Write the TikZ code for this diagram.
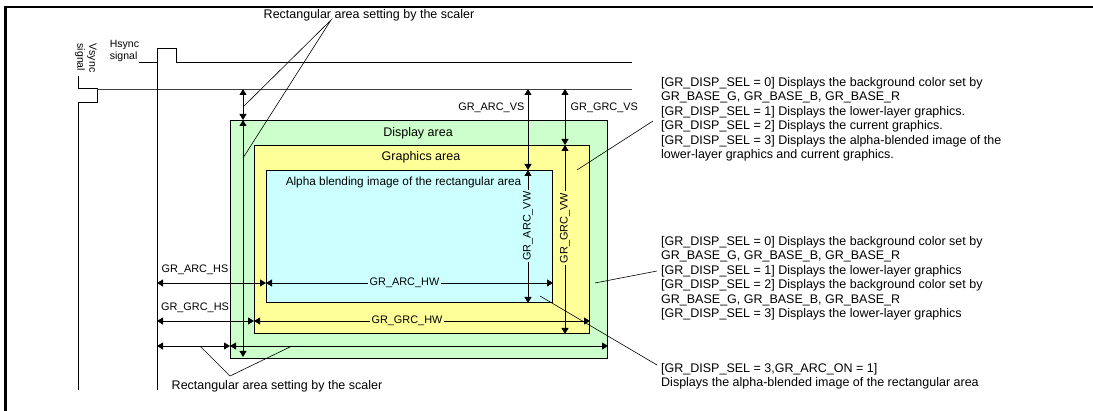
\documentclass[tikz,border=0pt]{standalone}
\usepackage{fontspec}
\setmainfont{Liberation Sans}
\usetikzlibrary{arrows.meta}
\definecolor{dispgreen}{HTML}{CCFFCC}
\definecolor{grayellow}{HTML}{FFFF99}
\definecolor{alphacyan}{HTML}{CCFFFF}
\tikzset{
  area/.style={draw=black, line width=1pt, anchor=north west, inner sep=0pt},
  sig/.style={line width=1pt, black},
  refline/.style={line width=0.8pt, black!75},
  dim/.style={line width=0.8pt, {Triangle[length=6pt,width=7pt]}-{Triangle[length=6pt,width=7pt]}},
  callout/.style={line width=0.6pt},
  note/.style={font=\fontsize{12.5}{14.5}\selectfont, align=left, inner sep=0pt, anchor=north west},
  big/.style={font=\fontsize{12.5}{14.5}\selectfont, inner sep=0pt},
  dimlabel/.style={font=\fontsize{10.9}{12.5}\selectfont, inner sep=1.5pt},
}
\begin{document}
\begin{tikzpicture}[x=1pt,y=-1pt]
\useasboundingbox (0,0) rectangle (1093,411);
% frame
\draw[line width=2.2pt] (5.5,411) -- (5.5,7) -- (1093,7);

% areas
\node[area, fill=dispgreen, minimum width=377pt, minimum height=238pt] (disp) at (230,120) {};
\node[area, fill=grayellow, minimum width=335pt, minimum height=188pt] (gfx) at (254,145) {};
\node[area, fill=alphacyan, minimum width=286pt, minimum height=132pt] (alpha) at (266,170) {};
\node[big] (displbl) at (418,133) {Display area};
\node[big] (gfxlbl) at (421,157) {Graphics area};
\node[font=\fontsize{11.8}{13}\selectfont, inner sep=0pt] (alphalbl) at (403.5,182.5) {Alpha blending image of the rectangular area};

% sync signals
\node[font=\fontsize{10.5}{12}\selectfont, align=left, rotate=-90, inner sep=0pt] (vsync) at (86,58) {Vsync\\signal};
\node[font=\fontsize{10.5}{12}\selectfont, align=left, inner sep=0pt] (hsync) at (124.5,51) {Hsync\\signal};
\coordinate (vs0) at (78,76);
\coordinate (vp) at (97,89);
\coordinate (vend) at (78,390);
\coordinate (hs0) at (139,63);
\coordinate (hp) at (157,63);
\coordinate (hend) at (632,63);
\coordinate (vrefend) at (632,89);
\coordinate (hrefend) at (157,390);
\draw[sig] (vs0) -- (78,89) -- (vp) -- (97,103) -- (78,103) -- (vend);
\draw[sig] (hs0) -- (hp) -- (157,49) -- (176,49) -- (176,63) -- (hend);
\draw[refline] (vp) -- (vrefend);
\draw[sig] (hp) -- (hrefend);

% vertical dimensions
\coordinate (a1) at (243,89);
\coordinate (a2) at (528,89);
\coordinate (a3) at (565,89);
\draw[dim] (a1) -- (a1 |- disp.north);
\draw[dim, shorten >=2pt] (a1 |- disp.north) -- (a1 |- disp.south);
\draw[dim] (a2) -- (a2 |- alpha.north);
\node[dimlabel, anchor=east] (arcvs) at (526,108) {GR\_ARC\_VS};
\draw[dim] (a2 |- alpha.north) -- (a2 |- alpha.south);
\node[dimlabel, rotate=90, fill=alphacyan] (arcvw) at (528,226) {GR\_ARC\_VW};
\draw[dim] (a3) -- (a3 |- gfx.north);
\node[dimlabel, anchor=west] (grcvs) at (569,108) {GR\_GRC\_VS};
\draw[dim] (a3 |- gfx.north) -- (a3 |- gfx.south);
\node[dimlabel, rotate=90, fill=grayellow] (grcvw) at (565,228) {GR\_GRC\_VW};

% horizontal dimensions
\coordinate (h1) at (157,283);
\coordinate (h2) at (157,321);
\coordinate (h3) at (157,346);
\draw[dim] (h1) -- (h1 -| alpha.west);
\node[dimlabel] (archs) at (195,270) {GR\_ARC\_HS};
\draw[dim] (h1 -| alpha.west) -- (h1 -| alpha.east);
\node[dimlabel, fill=alphacyan] (archw) at (404.5,283) {GR\_ARC\_HW};
\draw[dim] (h2) -- (h2 -| gfx.west);
\node[dimlabel] (grchs) at (195,308) {GR\_GRC\_HS};
\draw[dim] (h2 -| gfx.west) -- (h2 -| gfx.east);
\node[dimlabel, fill=grayellow] (grchw) at (407,321) {GR\_GRC\_HW};
\draw[dim] (h3) -- (h3 -| disp.west);
\draw[dim] (h3 -| disp.west) -- (h3 -| disp.east);

% callouts: scaler (top)
\node[big] (scalertop) at (369,15) {Rectangular area setting by the scaler};
\coordinate (st) at (331,20);
\coordinate (st1) at (243,107);
\coordinate (st2) at (243,158);
\draw[callout] (st1) -- (st) -- (st2);
% callouts: scaler (bottom)
\node[big] (scalerbot) at (277,386) {Rectangular area setting by the scaler};
\coordinate (sb) at (230,376);
\coordinate (sb1) at (200,346);
\coordinate (sb2) at (292,346);
\draw[callout] (sb1) -- (sb) -- (sb2);

% right notes
\node[note] (note1) at (661,77) {{[}GR\_DISP\_SEL = 0] Displays the background color set by\\
GR\_BASE\_G, GR\_BASE\_B, GR\_BASE\_R\\
{[}GR\_DISP\_SEL = 1] Displays the lower-layer graphics.\\
{[}GR\_DISP\_SEL = 2] Displays the current graphics.\\
{[}GR\_DISP\_SEL = 3] Displays the alpha-blended image of the\\
lower-layer graphics and current graphics.};
\node[note] (note2) at (661,236) {{[}GR\_DISP\_SEL = 0] Displays the background color set by\\
GR\_BASE\_G, GR\_BASE\_B, GR\_BASE\_R\\
{[}GR\_DISP\_SEL = 1] Displays the lower-layer graphics\\
{[}GR\_DISP\_SEL = 2] Displays the background color set by\\
GR\_BASE\_G, GR\_BASE\_B, GR\_BASE\_R\\
{[}GR\_DISP\_SEL = 3] Displays the lower-layer graphics};
\node[note] (note3) at (661,363) {{[}GR\_DISP\_SEL = 3,GR\_ARC\_ON = 1]\\
Displays the alpha-blended image of the rectangular area};
\coordinate (n1a) at (577,170);
\coordinate (n1b) at (653,121);
\coordinate (n2a) at (595,283);
\coordinate (n2b) at (657,271);
\coordinate (n3a) at (540,296);
\coordinate (n3b) at (657,365);
\draw[callout] (n1a) -- (n1b);
\draw[callout] (n2a) -- (n2b);
\draw[callout] (n3a) -- (n3b);
\end{tikzpicture}
\end{document}
